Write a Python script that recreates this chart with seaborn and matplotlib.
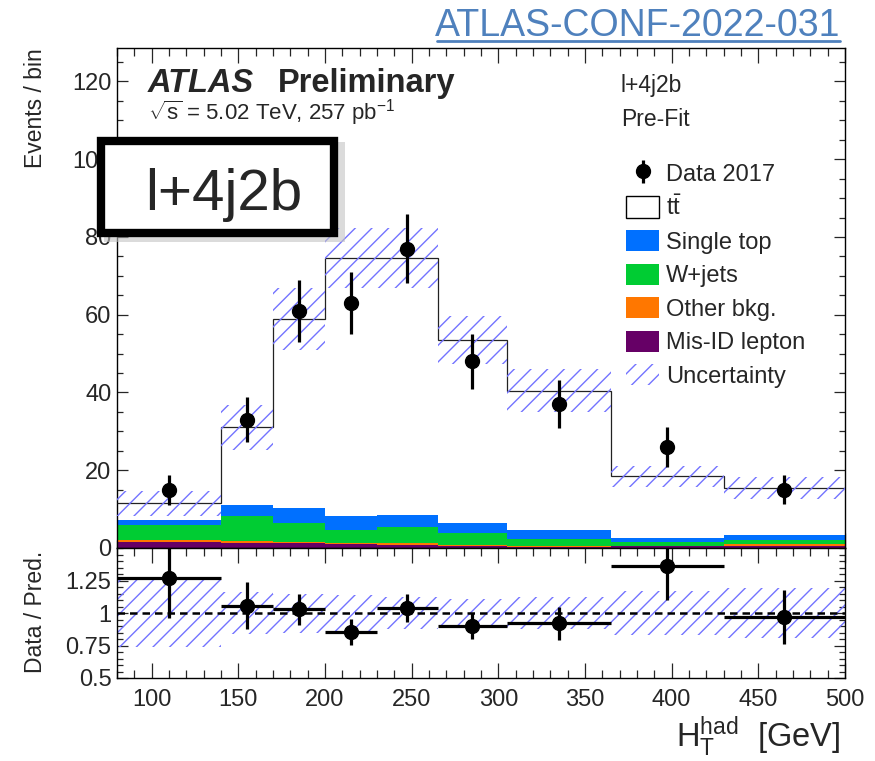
import numpy as np
import pandas as pd
import matplotlib
matplotlib.use("Agg")
import matplotlib.pyplot as plt
import seaborn as sns
from matplotlib.patches import Rectangle, Patch
from matplotlib.lines import Line2D
from matplotlib.ticker import MultipleLocator, FixedLocator, FuncFormatter

# ---------------- data ----------------
bin_edges = [80, 140, 170, 200, 230, 265, 305, 365, 430, 500]
data_counts = [15, 33, 61, 63, 77, 48, 37, 26, 15]
data_errors = [3.9, 5.8, 7.9, 7.9, 8.8, 7.0, 6.2, 5.2, 3.7]

ttbar = [4.3, 19.9, 48.8, 66.3, 66.0, 47.1, 35.9, 15.85, 12.15]
single_top = [1.3, 2.9, 3.7, 3.6, 3.2, 2.6, 2.3, 1.05, 1.3]
wjets = [3.8, 6.3, 4.9, 3.2, 4.1, 3.0, 1.7, 1.1, 1.1]
other_bkg = [0.6, 0.5, 0.4, 0.45, 0.4, 0.3, 0.25, 0.1, 0.35]
misid = [1.5, 1.4, 1.2, 0.95, 0.8, 0.5, 0.35, 0.4, 0.6]
unc_abs = [3.2, 5.7, 8.0, 7.7, 7.7, 6.2, 5.5, 2.7, 2.8]

ratio_vals = [1.27, 1.055, 1.03, 0.855, 1.04, 0.90, 0.92, 1.36, 0.97]
ratio_errs = [0.31, 0.18, 0.12, 0.10, 0.11, 0.10, 0.13, 0.26, 0.21]
ratio_band = [0.26, 0.16, 0.15, 0.135, 0.12, 0.11, 0.12, 0.17, 0.19]

proc_names = ["ttbar", "Single top", "W+jets", "Other bkg.", "Mis-ID lepton"]
proc_values = [ttbar, single_top, wjets, other_bkg, misid]
proc_colors = ["#ffffff", "#0070ff", "#00cc33", "#ff7700", "#660066"]
legend_labels = ["Data 2017", r"$\mathrm{t\bar{t}}$", "Single top", "W+jets",
                 "Other bkg.", "Mis-ID lepton", "Uncertainty"]

x_ticks = [100, 150, 200, 250, 300, 350, 400, 450, 500]
y_ticks = [0, 20, 40, 60, 80, 100, 120]
r_ticks = [0.5, 0.75, 1, 1.25]

# ---------------- style ----------------
sns.set_style("ticks")
plt.rcParams["font.family"] = ["Liberation Sans", "DejaVu Sans"]
plt.rcParams["mathtext.fontset"] = "custom"
plt.rcParams["mathtext.rm"] = "Liberation Sans"
plt.rcParams["mathtext.it"] = "Liberation Sans:italic"
plt.rcParams["mathtext.bf"] = "Liberation Sans:bold"
plt.rcParams["hatch.linewidth"] = 1.0

HATCH_C = "#7373ff"
W, H = 875, 761

def fx(px):
    return px / W

def fy(py):
    return 1 - py / H

fig = plt.figure(figsize=(W / 100, H / 100), dpi=100)
ax = fig.add_axes([fx(117), fy(548), (845 - 117) / W, (548 - 48) / H])
rax = fig.add_axes([fx(117), fy(678), (845 - 117) / W, (678 - 548) / H])

edges = np.array(bin_edges, dtype=float)
centers = 0.5 * (edges[:-1] + edges[1:])
halfw = 0.5 * (edges[1:] - edges[:-1])

# ---------------- stacked MC via seaborn ----------------
rows = []
for name, vals in zip(proc_names, proc_values):
    for c, v in zip(centers, vals):
        rows.append({"x": c, "w": v, "proc": name})
df = pd.DataFrame(rows)
pal = dict(zip(proc_names, proc_colors))
sns.histplot(data=df, x="x", weights="w", hue="proc", hue_order=proc_names,
             multiple="stack", bins=bin_edges, element="step", fill=True,
             palette=pal, alpha=1, linewidth=0, legend=False, ax=ax, zorder=1)

total = np.sum(np.array(proc_values), axis=0)
ax.stairs(total, edges, baseline=None, color="#222222", lw=0.9, zorder=3)

lo = total - np.array(unc_abs)
hi = total + np.array(unc_abs)
ax.fill_between(edges, np.append(lo, lo[-1]), np.append(hi, hi[-1]), step="post",
                facecolor="none", edgecolor=HATCH_C, hatch="//", linewidth=0, zorder=4)

eb = ax.errorbar(centers, data_counts, yerr=data_errors, fmt="o", color="black",
                 ms=10, elinewidth=2.3, capsize=0, zorder=6)

ax.set_xlim(80, 500)
ax.set_ylim(0, 128.6)
ax.set_xlabel("")
ax.set_ylabel("")
ax.yaxis.set_major_locator(FixedLocator(y_ticks))
ax.yaxis.set_minor_locator(MultipleLocator(5))
ax.xaxis.set_major_locator(FixedLocator(x_ticks))
ax.xaxis.set_minor_locator(MultipleLocator(10))
ax.tick_params(axis="both", which="both", direction="in", top=True, right=True,
               labelbottom=False, labelsize=17, width=0.9, pad=4)
ax.tick_params(axis="y", which="major", length=8)
ax.tick_params(axis="y", which="minor", length=4)
ax.tick_params(axis="x", which="major", length=11)
ax.tick_params(axis="x", which="minor", length=6)
for s in ax.spines.values():
    s.set_linewidth(1.0)
    s.set_color("black")
    s.set_visible(True)

# ---------------- ratio panel ----------------
rlo = 1 - np.array(ratio_band)
rhi = 1 + np.array(ratio_band)
rax.fill_between(edges, np.append(rlo, rlo[-1]), np.append(rhi, rhi[-1]), step="post",
                 facecolor="none", edgecolor=HATCH_C, hatch="//", linewidth=0, zorder=1)
rax.axhline(1, color="black", ls=(0, (3, 2)), lw=1.8, zorder=2)
rax.errorbar(centers, ratio_vals, yerr=ratio_errs, xerr=halfw, fmt="o", color="black",
             ms=10, elinewidth=2.3, capsize=0, zorder=5)
rax.set_xlim(80, 500)
rax.set_ylim(0.5, 1.5)
rax.yaxis.set_major_locator(FixedLocator(r_ticks))
rax.yaxis.set_minor_locator(MultipleLocator(0.05))
rax.yaxis.set_major_formatter(FuncFormatter(lambda v, p: "%g" % v))
rax.xaxis.set_major_locator(FixedLocator(x_ticks))
rax.xaxis.set_minor_locator(MultipleLocator(10))
rax.tick_params(axis="both", which="both", direction="in", top=True, right=True,
                labelsize=17, width=0.9)
rax.tick_params(axis="x", which="major", length=11, pad=8)
rax.tick_params(axis="x", which="minor", length=6)
rax.tick_params(axis="y", which="major", length=8, pad=4)
rax.tick_params(axis="y", which="minor", length=4)
for s in rax.spines.values():
    s.set_linewidth(1.0)
    s.set_color("black")
    s.set_visible(True)

# ---------------- axis titles ----------------
fig.text(fx(35), fy(48), "Events / bin", rotation=90, ha="center", va="top", fontsize=16.5)
fig.text(fx(35), fy(612), "Data / Pred.", rotation=90, ha="center", va="center", fontsize=16.5)
fig.text(fx(840), fy(747), r"$\mathrm{H}_{\mathrm{T}}^{\mathrm{had}}$  [GeV]",
         ha="right", va="baseline", fontsize=23.5)

# ---------------- labels ----------------
fig.text(fx(148), fy(92), "ATLAS", fontsize=23.5, fontweight="bold", fontstyle="italic",
         ha="left", va="baseline")
fig.text(fx(278), fy(92), "Preliminary", fontsize=23.5, fontweight="bold",
         ha="left", va="baseline")
fig.text(fx(148), fy(120), r"$\sqrt{\mathrm{s}}$ = 5.02 TeV, 257 pb$^{\mathrm{-1}}$",
         fontsize=16, ha="left", va="baseline")
fig.text(fx(621), fy(92), "l+4j2b", fontsize=16.5, ha="left", va="baseline")
fig.text(fx(621), fy(126), "Pre-Fit", fontsize=16.5, ha="left", va="baseline")

# ATLAS-CONF link
fig.text(fx(840), fy(36), "ATLAS-CONF-2022-031", fontsize=27, color="#4f81bd",
         ha="right", va="baseline")
fig.add_artist(Line2D([fx(437), fx(840)], [fy(41), fy(41)], color="#4f81bd", lw=2))

# boxed overlay label
fig.add_artist(Rectangle((fx(104), fy(242)), (338 - 97) / W, (237 - 137) / H,
                         transform=fig.transFigure, facecolor="#c4c4c4",
                         edgecolor="none", alpha=0.6, zorder=9))
fig.add_artist(Rectangle((fx(101), fy(233)), (334 - 101) / W, (233 - 141) / H,
                         transform=fig.transFigure, facecolor="white",
                         edgecolor="black", lw=6, zorder=10))
fig.text(fx(224), fy(210), "l+4j2b", fontsize=42, ha="center", va="baseline", zorder=11)

# ---------------- legend ----------------
handles = [eb,
           Patch(facecolor="white", edgecolor="black", lw=1),
           Patch(facecolor=proc_colors[1], edgecolor="none"),
           Patch(facecolor=proc_colors[2], edgecolor="none"),
           Patch(facecolor=proc_colors[3], edgecolor="none"),
           Patch(facecolor=proc_colors[4], edgecolor="none"),
           Patch(facecolor="none", edgecolor=HATCH_C, hatch="//", lw=0)]
ax.legend(handles, legend_labels, loc="upper left",
          bbox_to_anchor=(fx(626), fy(162)), bbox_transform=fig.transFigure,
          frameon=False, fontsize=17, handlelength=1.4, handleheight=1.0,
          handletextpad=0.3, labelspacing=0.42, borderpad=0, borderaxespad=0)

fig.savefig("out.png", dpi=100)
